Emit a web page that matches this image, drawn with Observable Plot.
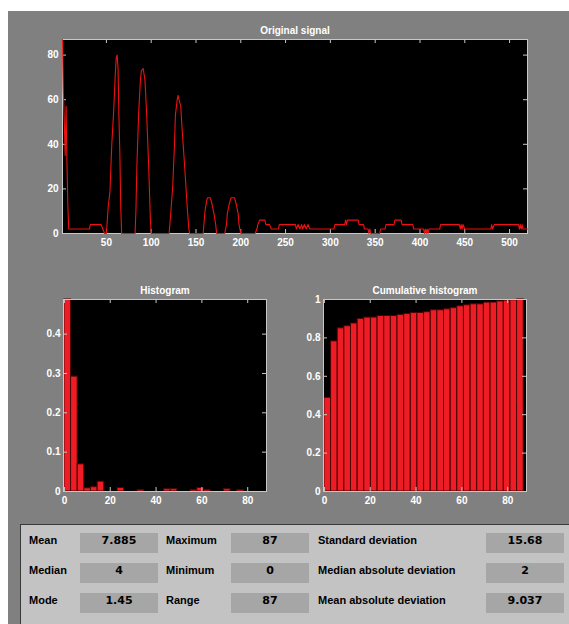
<!DOCTYPE html>
<html>
<head>
<meta charset="utf-8">
<script src="https://cdn.jsdelivr.net/npm/d3@7"></script>
<script src="https://cdn.jsdelivr.net/npm/@observablehq/plot@0.6"></script>
<style>
  body { margin: 0; width: 569px; height: 624px; overflow: hidden; position: relative; background: #ffffff; }
  #fig { position: absolute; left: 8px; top: 11px; right: 0; bottom: 0; background: #808080; }
  .chart { position: absolute; }
  .chart svg { overflow: visible; }
  #panel { position: absolute; left: 20px; top: 524px; width: 560px; height: 110px; background: #c3c3c3;
           border-top: 1px solid #3a3a3a; border-left: 1px solid #3a3a3a; box-sizing: border-box; }
  .lbl, .val { position: absolute; font: bold 11px "Liberation Sans", Arial, sans-serif; color: #000; line-height: 13px; white-space: nowrap; }
  .val { font-family: "DejaVu Sans", "Liberation Sans", sans-serif; text-align: center; }
  .box { position: absolute; background: #a6a6a6; height: 20px; }
</style>
</head>
<body>
<div id="fig"></div>
<div id="sig" class="chart" style="left:0;top:0"></div>
<div id="hist" class="chart" style="left:0;top:260px"></div>
<div id="cum" class="chart" style="left:260px;top:260px"></div>
<div id="panel"></div>
<script>
// Original signal, given as the vertices of the trace (sample index, value)
const signalX = [1,2,3,4,5,6,7,8,31,32,44,46,48,50,
  52,54,56,58,60,61,62,63,64,65,66,67,
  82,83,84,86,88,89,91,93,95,97,98,99,100,
  120,122,124,126,127,129,130,131,133,134,136,138,140,142,143,
  158,160,162,163,166,168,170,172,173,
  182,184,185,187,189,193,195,197,198,200,
  216,218,219,221,227,228,232,234,242,243,
  261,262,264,266,268,269,271,273,275,277,
  304,305,316,317,318,319,331,332,337,338,342,343,344,345,
  355,356,361,362,371,372,379,380,392,393,404,405,406,407,408,409,410,
  422,423,444,445,446,447,448,450,
  479,480,481,483,510,511,512,513,514,515,520];
const signalY = [87,63,50,35,57,31,12,2,2,4,4,2,0,0,
  12,19,40,54,72,79,80,74,52,36,12,0,
  0,11,30,54,69,73,74,69,53,32,20,7,0,
  0,10,21,40,53,60,62,60,57,50,38,26,13,2,0,
  0,10,15,16,16,13,9,4,0,
  0,4,9,13,16,16,13,9,4,0,
  0,2,4,6,6,4,4,2,2,4,
  4,2,4,2,4,2,4,2,4,2,
  2,4,4,6,4,6,6,4,4,2,2,0,2,0,
  0,2,2,4,4,6,6,4,4,2,2,0,2,0,2,0,2,
  2,4,4,2,4,2,4,2,
  2,4,2,4,4,2,4,2,4,2,2];

// 30 histogram bins over [0, 87]
const binCenters = [1.45,4.35,7.25,10.15,13.05,15.95,18.85,21.75,24.65,27.55,
  30.45,33.35,36.25,39.15,42.05,44.95,47.85,50.75,53.65,56.55,
  59.45,62.35,65.25,68.15,71.05,73.95,76.85,79.75,82.65,85.55];
const histFreq = [0.488,0.292,0.069,0.008,0.011,0.025,0,0,0.009,0,
  0,0.004,0,0,0,0.006,0.006,0,0,0.004,
  0.009,0.004,0,0,0.006,0,0.004,0,0,0];
const cumFreq = [0.488,0.782,0.850,0.861,0.875,0.899,0.906,0.906,0.914,0.914,
  0.914,0.920,0.925,0.930,0.930,0.934,0.944,0.944,0.949,0.955,
  0.965,0.970,0.975,0.975,0.984,0.984,0.990,0.994,0.996,1.0];

// Axis ticks
const signalXTicks = [50,100,150,200,250,300,350,400,450,500];
const signalYTicks = [0,20,40,60,80];
const histXTicks = [0,20,40,60,80];
const histYTicks = [0,0.1,0.2,0.3,0.4];
const cumYTicks = [0,0.2,0.4,0.6,0.8,1];

// Summary statistics
const statNames1 = ["Mean","Median","Mode"];
const statValues1 = ["7.885","4","1.45"];
const statNames2 = ["Maximum","Minimum","Range"];
const statValues2 = ["87","0","87"];
const statNames3 = ["Standard deviation","Median absolute deviation","Mean absolute deviation"];
const statValues3 = ["15.68","2","9.037"];

const FONT = "Liberation Sans, Arial, sans-serif";
const FRAME = "#c8c8c8";
const LABEL = "#ffffff";
const TICK_LEN = 4;

// Box-style axes: black plot area, light frame, inward ticks on all four sides
function boxedAxes({width, height, margin, xTicks, yTicks, xPad, yPad, title}) {
  const innerW = width - margin.left - margin.right;
  const innerH = height - margin.top - margin.bottom;
  return {
    under: [Plot.frame({fill: "black", stroke: null})],
    frame: [
      Plot.ruleX(xTicks, {x: d => d, insetTop: innerH - TICK_LEN, stroke: FRAME}),
      Plot.ruleX(xTicks, {x: d => d, insetBottom: innerH - TICK_LEN, stroke: FRAME}),
      Plot.ruleY(yTicks, {y: d => d, insetRight: innerW - TICK_LEN, stroke: FRAME}),
      Plot.ruleY(yTicks, {y: d => d, insetLeft: innerW - TICK_LEN, stroke: FRAME}),
      Plot.frame({stroke: FRAME})
    ],
    labels: [
      Plot.axisX(xTicks, {anchor: "bottom", tickSize: 0, tickPadding: xPad, fill: LABEL, tickFormat: d => String(d), label: null}),
      Plot.axisY(yTicks, {anchor: "left", tickSize: 0, tickPadding: yPad, fill: LABEL, tickFormat: d => String(d), label: null}),
      Plot.text([title], {frameAnchor: "top", dy: -13, fill: LABEL, fontWeight: "bold", fontSize: 10})
    ]
  };
}

const baseStyle = {fontFamily: FONT, fontSize: "10px", fontWeight: "bold", background: "transparent", color: LABEL};

// Original signal (trace drawn over the frame, so it covers the left edge)
{
  const width = 569, height = 250, margin = {top: 39, right: 42, bottom: 17, left: 62};
  const ax = boxedAxes({width, height, margin, xTicks: signalXTicks, yTicks: signalYTicks, xPad: 5, yPad: 4, title: "Original signal"});
  const pts = signalX.map((x, i) => ({x, y: signalY[i]}));
  document.getElementById("sig").append(Plot.plot({
    width, height, marginTop: margin.top, marginRight: margin.right, marginBottom: margin.bottom, marginLeft: margin.left,
    style: baseStyle,
    x: {domain: [1, 520]},
    y: {domain: [0, 87]},
    marks: [
      ...ax.under,
      ...ax.frame,
      Plot.line(pts, {x: "x", y: "y", stroke: "#ee1111", strokeWidth: 1.1}),
      ...ax.labels
    ]
  }));
}

// Histogram bars share one drawing routine
function barChart(el, values, yDomain, yTicks, title) {
  const width = 290, height = 250, margin = {top: 39, right: 24, bottom: 19, left: 63};
  const ax = boxedAxes({width, height, margin, xTicks: histXTicks, yTicks, xPad: 5, yPad: 3, title});
  const half = (binCenters[1] - binCenters[0]) / 2;
  const rows = binCenters.map((c, i) => ({x1: c - half, x2: c + half, f: values[i]})).filter(d => d.f > 0);
  document.getElementById(el).append(Plot.plot({
    width, height, marginTop: margin.top, marginRight: margin.right, marginBottom: margin.bottom, marginLeft: margin.left,
    style: baseStyle,
    x: {domain: [-0.4, 88.2]},
    y: {domain: yDomain},
    marks: [
      ...ax.under,
      Plot.rectY(rows, {x1: "x1", x2: "x2", y: "f", fill: "#ee1c24", stroke: "#4a0505", strokeWidth: 1}),
      ...ax.frame,
      ...ax.labels
    ]
  }));
}

barChart("hist", histFreq, [0, 0.488], histYTicks, "Histogram");
barChart("cum", cumFreq, [0, 1], cumYTicks, "Cumulative histogram");

// Statistics panel
{
  const body = document.body;
  const rowTops = [533, 563, 593];
  const cols = [
    {names: statNames1, values: statValues1, labelX: 29, boxX: 80, boxW: 78},
    {names: statNames2, values: statValues2, labelX: 166, boxX: 231, boxW: 78},
    {names: statNames3, values: statValues3, labelX: 318, boxX: 486, boxW: 78}
  ];
  cols.forEach(col => {
    col.names.forEach((name, r) => {
      const top = rowTops[r];
      const lbl = document.createElement("div");
      lbl.className = "lbl";
      lbl.style.left = col.labelX + "px";
      lbl.style.top = (top + 1) + "px";
      lbl.textContent = name;
      body.append(lbl);
      const box = document.createElement("div");
      box.className = "box";
      box.style.left = col.boxX + "px";
      box.style.top = top + "px";
      box.style.width = col.boxW + "px";
      body.append(box);
      const val = document.createElement("div");
      val.className = "val";
      val.style.left = col.boxX + "px";
      val.style.top = (top + 1) + "px";
      val.style.width = col.boxW + "px";
      val.textContent = col.values[r];
      body.append(val);
    });
  });
}
</script>
</body>
</html>
